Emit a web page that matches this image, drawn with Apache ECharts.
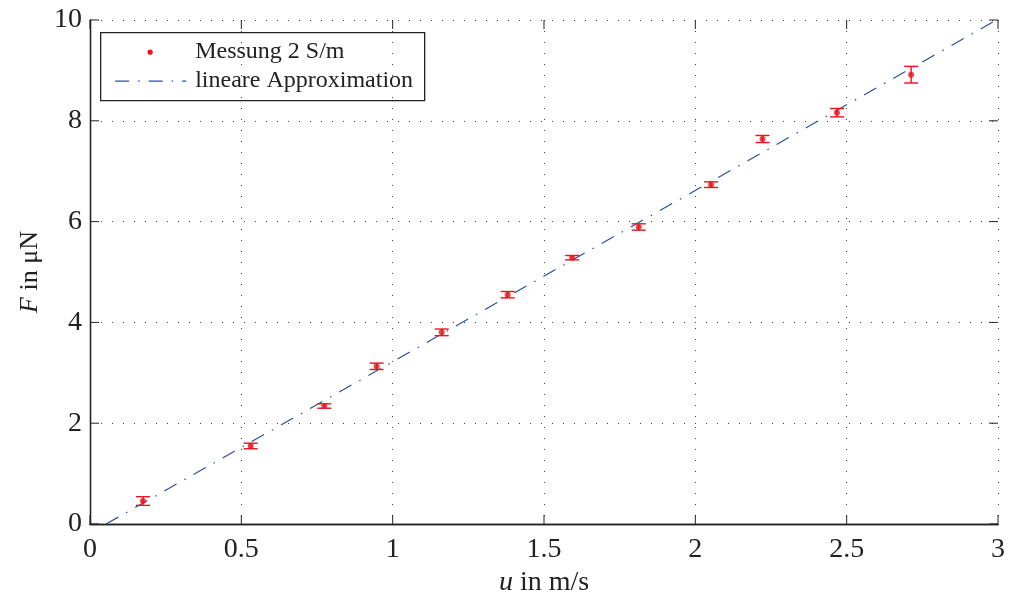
<!DOCTYPE html>
<html>
<head>
<meta charset="utf-8">
<script src="https://cdn.jsdelivr.net/npm/echarts@6/dist/echarts.min.js"></script>
<style>
  html, body { margin: 0; padding: 0; background: #fff; }
  #chart { width: 1009px; height: 592px; }
</style>
</head>
<body>
<div id="chart"></div>
<script>
// Measured force vs. velocity (conductivity 2 S/m)
const uValues = [0.175, 0.531, 0.774, 0.947, 1.162, 1.380, 1.593, 1.813, 2.052, 2.222, 2.468, 2.713];
const fValues = [0.456, 1.548, 2.341, 3.129, 3.803, 4.550, 5.284, 5.893, 6.733, 7.639, 8.161, 8.915];
const fErrors = [0.086, 0.055, 0.044, 0.063, 0.066, 0.063, 0.043, 0.063, 0.056, 0.070, 0.083, 0.165];

// Linear fit endpoints
const fitU = [0.053, 2.995];
const fitF = [0, 10];

// Tick positions (marked on all four sides of the box)
const xTicks = [0, 0.5, 1, 1.5, 2, 2.5, 3];
const yTicks = [0, 2, 4, 6, 8, 10];

const serif = '"Liberation Serif", "DejaVu Serif", serif';
const red = '#e8141e';
const blue = '#2c4f9e';
const ink = '#222';
const dashDot = [14, 9, 1.5, 9];

const chart = echarts.init(document.getElementById('chart'));

const measured = uValues.map((u, i) => [u, fValues[i], fErrors[i]]);
const fitLine = fitU.map((u, i) => [u, fitF[i]]);

function fmt(v) { return String(v); }

const axisLine = { show: true, lineStyle: { color: ink, width: 1.3 } };
const splitLine = { show: true, lineStyle: { color: '#444', width: 1, type: [1, 10] } };
function nameStyle(size) {
  return {
    color: ink, fontFamily: serif, fontSize: size,
    rich: { i: { fontFamily: serif, fontSize: size, fontStyle: 'italic', color: ink } }
  };
}

// Inward tick marks, drawn from the axis scales
const tickData = xTicks.map(v => ['x', v]).concat(yTicks.map(v => ['y', v]));
function renderTick(params, api) {
  const kind = api.value(0);
  const v = api.value(1);
  const style = { stroke: ink, lineWidth: 1 };
  if (kind === 'x') {
    const b = api.coord([v, 0]);
    const t = api.coord([v, 10]);
    return { type: 'group', children: [
      { type: 'line', shape: { x1: b[0], y1: b[1], x2: b[0], y2: b[1] - 9 }, style: style },
      { type: 'line', shape: { x1: t[0], y1: t[1], x2: t[0], y2: t[1] + 9 }, style: style }
    ] };
  }
  const l = api.coord([0, v]);
  const r = api.coord([3, v]);
  return { type: 'group', children: [
    { type: 'line', shape: { x1: l[0], y1: l[1], x2: l[0] + 9, y2: l[1] }, style: style },
    { type: 'line', shape: { x1: r[0], y1: r[1], x2: r[0] - 9, y2: r[1] }, style: style }
  ] };
}

chart.setOption({
  animation: false,
  backgroundColor: '#fff',
  grid: { left: 90, right: 11, top: 20, bottom: 68, outerBoundsMode: 'none', containLabel: false },
  xAxis: [{
    type: 'value', min: 0, max: 3, interval: 0.5,
    axisLine: axisLine,
    axisTick: { show: false },
    axisLabel: { color: ink, fontFamily: serif, fontSize: 28, margin: 12, formatter: fmt },
    splitLine: splitLine,
    name: '{i|u} in m/s', nameLocation: 'middle', nameGap: 42,
    nameTextStyle: nameStyle(28)
  }, {
    type: 'value', position: 'top', min: 0, max: 3, interval: 0.5,
    axisLine: axisLine,
    axisTick: { show: false },
    axisLabel: { show: false }, splitLine: { show: false }
  }],
  yAxis: [{
    type: 'value', min: 0, max: 10, interval: 2,
    axisLine: axisLine,
    axisTick: { show: false },
    axisLabel: { color: ink, fontFamily: serif, fontSize: 28, margin: 8, formatter: fmt },
    splitLine: splitLine,
    name: '{i|F} in μN', nameLocation: 'middle', nameGap: 46, nameRotate: 90,
    nameTextStyle: nameStyle(26)
  }, {
    type: 'value', position: 'right', min: 0, max: 10, interval: 2,
    axisLine: axisLine,
    axisTick: { show: false },
    axisLabel: { show: false }, splitLine: { show: false }
  }],
  series: [{
    name: 'Ticks',
    type: 'custom',
    data: tickData,
    dimensions: [{ name: 'axis', type: 'ordinal' }, { name: 'value', type: 'float' }],
    encode: { x: -1, y: -1 },
    renderItem: renderTick,
    silent: true,
    clip: false,
    z: 1
  }, {
    name: 'lineare Approximation',
    type: 'line',
    data: fitLine,
    showSymbol: false,
    lineStyle: { color: blue, width: 1.2, type: dashDot },
    z: 2
  }, {
    name: 'Fehlerbalken',
    type: 'custom',
    data: measured,
    renderItem: function (params, api) {
      const u = api.value(0), f = api.value(1), e = api.value(2);
      const hi = api.coord([u, f + e]);
      const lo = api.coord([u, f - e]);
      const half = 7;
      const style = { stroke: red, lineWidth: 1.4 };
      return {
        type: 'group',
        children: [
          { type: 'line', shape: { x1: hi[0], y1: hi[1], x2: lo[0], y2: lo[1] }, style: style },
          { type: 'line', shape: { x1: hi[0] - half, y1: hi[1], x2: hi[0] + half, y2: hi[1] }, style: style },
          { type: 'line', shape: { x1: lo[0] - half, y1: lo[1], x2: lo[0] + half, y2: lo[1] }, style: style }
        ]
      };
    },
    z: 3
  }, {
    name: 'Messung 2 S/m',
    type: 'scatter',
    data: measured.map(d => [d[0], d[1]]),
    symbol: 'circle',
    symbolSize: 6,
    itemStyle: { color: red },
    z: 4
  }],
  graphic: [{
    type: 'group', left: 100, top: 32, z: 100,
    children: [
      { type: 'rect', shape: { x: 0.5, y: 0.5, width: 324, height: 68 },
        style: { fill: '#fff', stroke: ink, lineWidth: 1.3 } },
      { type: 'circle', shape: { cx: 50, cy: 20, r: 2.6 }, style: { fill: red } },
      { type: 'line', shape: { x1: 15, y1: 49, x2: 86, y2: 49 },
        style: { stroke: blue, lineWidth: 1.2, lineDash: dashDot } },
      { type: 'text', x: 95, y: 20,
        style: { text: 'Messung 2 S/m', font: '24px ' + serif, fill: ink, verticalAlign: 'middle' } },
      { type: 'text', x: 95, y: 49,
        style: { text: 'lineare Approximation', font: '24px ' + serif, fill: ink, verticalAlign: 'middle' } }
    ]
  }]
});
</script>
</body>
</html>
